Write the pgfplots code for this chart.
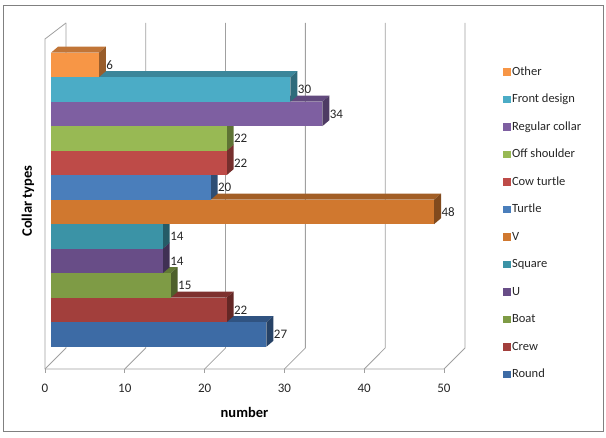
\documentclass[border=0pt]{standalone}
\usepackage{fontspec}
\setmainfont{Carlito}
\usepackage{pgfplots}
\pgfplotsset{compat=1.18}
\definecolor{gridgray}{RGB}{160,160,160}
\definecolor{framegray}{RGB}{128,128,128}
\definecolor{cRound}{HTML}{3D6BA5}
\definecolor{cCrew}{HTML}{A23F3C}
\definecolor{cBoat}{HTML}{7E9B45}
\definecolor{cU}{HTML}{684D87}
\definecolor{cSquare}{HTML}{3B93A6}
\definecolor{cV}{HTML}{D0782F}
\definecolor{cTurtle}{HTML}{4A7EBB}
\definecolor{cCow}{HTML}{BE4B48}
\definecolor{cOff}{HTML}{98B954}
\definecolor{cReg}{HTML}{7E5FA1}
\definecolor{cFront}{HTML}{4BACC6}
\definecolor{cOther}{HTML}{F79646}
\newcommand\fnt{\fontsize{12.5}{15}\selectfont}
\newcommand\tfnt{\fontsize{13}{15}\selectfont}
\newcommand\lfnt{\fontsize{14.5}{17}\selectfont\bfseries}
% #1 category position, #2 value, #3 colour
\newcommand\collarbar[3]{%
  \pgfmathsetmacro\yb{#1-0.5}\pgfmathsetmacro\yt{#1+0.5}%
  \pgfmathsetmacro\ybb{#1-0.255}\pgfmathsetmacro\ytt{#1+0.745}%
  \pgfmathsetmacro\xe{#2+0.877}%
  \edef\temp{%
    \noexpand\addplot[fill=#3!78!black, draw=none, forget plot, barplane]
      coordinates {(0,\yt) (#2,\yt) (\xe,\ytt) (0.877,\ytt)};
    \noexpand\addplot[fill=#3!62!black, draw=none, forget plot, barplane]
      coordinates {(#2,\yb) (\xe,\ybb) (\xe,\ytt) (#2,\yt)};
    \noexpand\addplot[xbar, bar width=1, bar shift=0pt, fill=#3, draw=none,
      forget plot, barplane, nodes near coords] coordinates {(#2,#1)};
  }\temp}
\begin{document}
\begin{tikzpicture}[x=1pt,y=1pt]
\useasboundingbox (0,0) rectangle (606,438);
\draw[framegray, line width=1pt] (3,6) rectangle (603,432);
\begin{axis}[
  at={(45pt,69pt)}, anchor=south west,
  scale only axis, width=399pt, height=330pt,
  xmin=0, xmax=50, ymin=-1.206, ymax=12.264,
  clip=false,
  barplane/.style={xshift=6pt, yshift=5pt},
  axis line style={draw=none},
  xtick={0,10,20,30,40,50}, ytick=\empty, xtick pos=bottom,
  tick align=outside, major tick length=4pt,
  tick style={gridgray, line width=0.8pt},
  xticklabel style={font=\tfnt, text=black!85, yshift=-8pt},
  xlabel={number}, ylabel={Collar types},
  every axis x label/.style={at={(axis description cs:0.5,0)}, anchor=center, yshift=-43pt, font=\lfnt},
  every axis y label/.style={at={(axis description cs:-0.0426,0.509)}, rotate=90, anchor=center, font=\lfnt},
  every node near coord/.append style={anchor=west, xshift=4pt, font=\tfnt, text=black!85},
  legend style={at={(axis description cs:1.1404,0.93)}, anchor=north west,
    draw=none, fill=none, font=\fnt, inner sep=3pt,
    nodes={inner sep=1pt, text height=9pt, text depth=2.5pt, text=black!85},
    row sep=14pt},
  legend cell align=left,
  legend image code/.code={\fill[#1, draw=none] (0pt,-3.8pt) rectangle (7.8pt,3.8pt);},
  /pgf/number format/assume math mode=true,
]
% floor, left wall and back wall lines
\addplot[gridgray, line width=0.8pt, forget plot] coordinates {(50,-1.206) (0,-1.206) (0,12.264) (2.63,12.918)};
\addplot[gridgray, line width=0.8pt, forget plot] coordinates {(0,-1.206) (2.63,-0.349) (2.63,12.918)};
\addplot[gridgray, line width=0.8pt, forget plot] coordinates {(10,-1.206) (12.63,-0.349) (12.63,12.918)};
\addplot[gridgray, line width=0.8pt, forget plot] coordinates {(20,-1.206) (22.63,-0.349) (22.63,12.918)};
\addplot[gridgray, line width=0.8pt, forget plot] coordinates {(30,-1.206) (32.63,-0.349) (32.63,12.918)};
\addplot[gridgray, line width=0.8pt, forget plot] coordinates {(40,-1.206) (42.63,-0.349) (42.63,12.918)};
\addplot[gridgray, line width=0.8pt, forget plot] coordinates {(50,-1.206) (52.63,-0.349) (52.63,12.918)};
% bars, bottom to top
\collarbar{0}{27}{cRound}
\collarbar{1}{22}{cCrew}
\collarbar{2}{15}{cBoat}
\collarbar{3}{14}{cU}
\collarbar{4}{14}{cSquare}
\collarbar{5}{48}{cV}
\collarbar{6}{20}{cTurtle}
\collarbar{7}{22}{cCow}
\collarbar{8}{22}{cOff}
\collarbar{9}{34}{cReg}
\collarbar{10}{30}{cFront}
\collarbar{11}{6}{cOther}
% legend
\addlegendimage{fill=cOther}\addlegendentry{Other}
\addlegendimage{fill=cFront}\addlegendentry{Front design}
\addlegendimage{fill=cReg}\addlegendentry{Regular collar}
\addlegendimage{fill=cOff}\addlegendentry{Off shoulder}
\addlegendimage{fill=cCow}\addlegendentry{Cow turtle}
\addlegendimage{fill=cTurtle}\addlegendentry{Turtle}
\addlegendimage{fill=cV}\addlegendentry{V}
\addlegendimage{fill=cSquare}\addlegendentry{Square}
\addlegendimage{fill=cU}\addlegendentry{U}
\addlegendimage{fill=cBoat}\addlegendentry{Boat}
\addlegendimage{fill=cCrew}\addlegendentry{Crew}
\addlegendimage{fill=cRound}\addlegendentry{Round}
\end{axis}
\end{tikzpicture}
\end{document}
